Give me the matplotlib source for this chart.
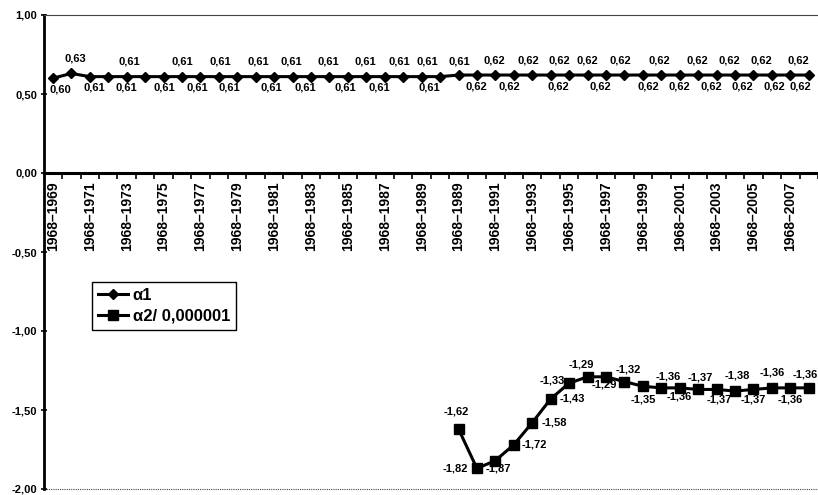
import matplotlib
matplotlib.use("Agg")
import numpy as np
import matplotlib.pyplot as plt

# categories (the source repeats 1968-1988/1989 after 1968-1989)
periods = [f"1968–{y}" for y in range(1969, 1990)] + [f"1968–{y}" for y in range(1988, 2009)]

alpha1 = [0.60, 0.63,
          0.61, 0.61, 0.61, 0.61, 0.61, 0.61, 0.61, 0.61, 0.61, 0.61,
          0.61, 0.61, 0.61, 0.61, 0.61, 0.61, 0.61, 0.61, 0.61, 0.61,
          0.62, 0.62, 0.62, 0.62, 0.62, 0.62, 0.62, 0.62, 0.62, 0.62,
          0.62, 0.62, 0.62, 0.62, 0.62, 0.62, 0.62, 0.62, 0.62, 0.62]

alpha2_start = 22
alpha2 = [-1.62, -1.87, -1.82, -1.72, -1.58, -1.43, -1.33, -1.29, -1.29, -1.32,
          -1.35, -1.36, -1.36, -1.37, -1.37, -1.38, -1.37, -1.36, -1.36, -1.36]

yticks = [1.0, 0.5, 0.0, -0.5, -1.0, -1.5, -2.0]

# label placement: A = above, B = below, with horizontal nudges in pixels
a1_side = "BABBA" "BABAB" "ABABA" "BABAA" "BABAB" "AABAB" "ABABA" "BABAB" "AB"
a1_dx = [7, 4, 5, 18, 3, 19, 19, 15, 20, 10, 21, 16, 17, 13, 17, 16, 17, 13, 15, 24, 8,
         19, 18, 17, 14, 15, 27, 8, 18, 13, 14, 24, 17, 18, 18, 13, 13, 7, 8, 2, 8, -8]
a2_offsets = [(-2, 17), (21, 0), (-40, -8), (21, 0), (22, 0), (22, 0), (-17, 3),
              (-6, 12), (-2, -8), (4, 12), (0, -13), (7, 11), (0, -9), (2, 12),
              (3, -10), (2, 16), (0, -10), (0, 15), (0, -12), (-4, 13)]


def fmt(v):
    return f"{v:.2f}".replace(".", ",")


plt.rcParams["font.family"] = ["Liberation Sans", "DejaVu Sans"]
plt.rcParams["font.weight"] = "bold"

fig = plt.figure(figsize=(8.18, 4.95), dpi=100)
left = 43.7 / 818
bottom = 1 - 489 / 495
top = 1 - 15 / 495
ax = fig.add_axes([left, bottom, 1 - left, top - bottom])

x1 = np.arange(len(alpha1))
x2 = np.arange(alpha2_start, alpha2_start + len(alpha2))

ax.plot(x1, alpha1, color="black", lw=2.2, marker="D", ms=5.5, label="α1", zorder=3)
ax.plot(x2, alpha2, color="black", lw=2.2, marker="s", ms=7, label="α2/ 0,000001", zorder=3)

for xi, v, s, dx in zip(x1, alpha1, a1_side, a1_dx):
    off = (dx, 15) if s == "A" else (dx, -11)
    ax.annotate(fmt(v), (xi, v), xytext=off, textcoords="offset pixels",
                ha="center", va="center", fontsize=8, fontweight="bold", zorder=4,
                annotation_clip=False)

for xi, v, off in zip(x2, alpha2, a2_offsets):
    ax.annotate(fmt(v), (xi, v), xytext=off, textcoords="offset pixels",
                ha="center", va="center", fontsize=8, fontweight="bold", zorder=4,
                annotation_clip=False)

ax.set_xlim(-0.5, -0.5 + (818 - 43.7) / 18.6)
ax.set_ylim(-2.0, 1.0)

ax.set_yticks(yticks)
ax.set_yticklabels([fmt(t) for t in yticks], fontsize=8, fontweight="bold")
ax.tick_params(axis="y", direction="inout", length=5, width=1.2, pad=2)

ax.set_xticks(np.arange(len(periods)) + 0.5)
ax.set_xticklabels([])
ax.set_xticks(np.arange(0, len(periods), 2), minor=True)
ax.set_xticklabels(periods[::2], minor=True, fontsize=8, fontweight="bold")
ax.tick_params(axis="x", which="major", direction="out", length=4, width=1.2)
ax.tick_params(axis="x", which="minor", length=0, pad=6, labelrotation=90)

ax.spines["bottom"].set_position(("data", 0))
ax.spines["bottom"].set_linewidth(2.2)
ax.spines["left"].set_linewidth(2)
ax.spines["right"].set_visible(False)
ax.spines["top"].set_linestyle((0, (1, 1)))
ax.spines["top"].set_linewidth(0.8)
ax.spines["top"].set_color("#444444")
ax.axhline(-2.0, color="#444444", lw=0.8, ls=(0, (1, 1)), clip_on=False)

leg = ax.legend(loc="upper left", bbox_to_anchor=(92 / 818, 1 - 282 / 495),
                bbox_transform=fig.transFigure, borderaxespad=0, fancybox=False,
                edgecolor="black", framealpha=1, fontsize=12, numpoints=1,
                handlelength=1.8, handletextpad=0.3, borderpad=0.35, labelspacing=0.35)
leg.get_frame().set_linewidth(1.0)
for t in leg.get_texts():
    t.set_fontweight("bold")

fig.savefig("out.png", dpi=100)
